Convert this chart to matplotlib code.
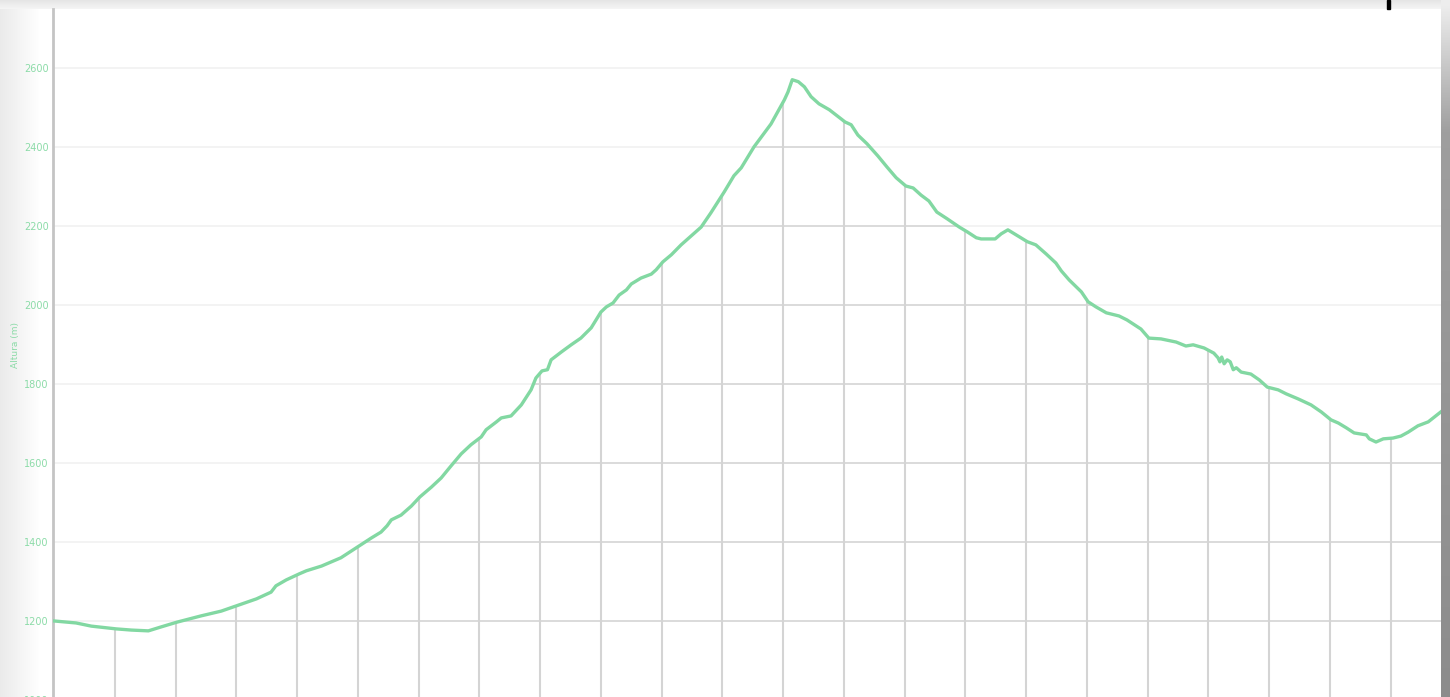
import numpy as np
import matplotlib
matplotlib.use("Agg")
import matplotlib.pyplot as plt
from matplotlib.patches import Polygon, Rectangle

distance_km = [0.00, 0.36, 0.61, 1.02, 1.27, 1.55, 1.76, 2.02, 2.42, 2.75, 3.03, 3.33, 3.57, 3.65,
               3.82, 4.03, 4.15, 4.40, 4.72, 5.02, 5.22, 5.38, 5.48, 5.55, 5.71, 5.88, 6.02, 6.21,
               6.37, 6.53, 6.70, 6.86, 7.03, 7.11, 7.28, 7.36, 7.52, 7.69, 7.85, 7.93, 8.03, 8.12,
               8.18, 8.35, 8.51, 8.67, 8.84, 8.92, 9.00, 9.09, 9.20, 9.30, 9.42, 9.50, 9.66, 9.83,
               9.91, 10.02, 10.16, 10.32, 10.49, 10.65, 10.81, 11.03, 11.19, 11.31, 11.52, 11.80,
               12.02, 12.08, 12.15, 12.25, 12.35, 12.46, 12.59, 12.76, 12.91, 13.02, 13.12, 13.23,
               13.38, 13.56, 13.71, 13.86, 14.02, 14.14, 14.27, 14.40, 14.53, 14.70, 14.90, 15.03,
               15.18, 15.26, 15.49, 15.59, 15.70, 15.84, 16.02, 16.16, 16.33, 16.49, 16.58, 16.71,
               16.91, 17.02, 17.15, 17.32, 17.53, 17.66, 17.89, 18.02, 18.22, 18.47, 18.63, 18.75,
               18.93, 19.09, 19.16, 19.19, 19.22, 19.26, 19.31, 19.36, 19.41, 19.46, 19.54, 19.70,
               19.84, 19.97, 20.15, 20.28, 20.48, 20.69, 20.86, 21.02, 21.14, 21.27, 21.40, 21.60,
               21.65, 21.76, 21.88, 22.04, 22.17, 22.29, 22.45, 22.62, 22.85]
elevation_m = [1200, 1195, 1187, 1180, 1177, 1175, 1185, 1197, 1213, 1225, 1240, 1256, 1273, 1289,
               1304, 1319, 1327, 1339, 1360, 1390, 1410, 1425, 1441, 1456, 1468, 1491, 1514, 1539,
               1562, 1592, 1623, 1646, 1666, 1684, 1704, 1714, 1719, 1747, 1785, 1815, 1833, 1836,
               1861, 1881, 1899, 1916, 1942, 1962, 1982, 1995, 2005, 2025, 2038, 2053, 2068, 2078,
               2089, 2109, 2127, 2152, 2175, 2197, 2233, 2286, 2327, 2347, 2400, 2458,
               2519, 2539, 2570, 2565, 2552, 2527, 2509, 2494, 2476, 2463, 2456, 2430,
               2408, 2377, 2349, 2322, 2301, 2296, 2278, 2263, 2235, 2218, 2197, 2185,
               2170, 2167, 2167, 2180, 2190, 2177, 2160, 2152, 2129, 2106, 2086, 2063,
               2033, 2008, 1995, 1980, 1972, 1962, 1939, 1916, 1914, 1906, 1896, 1899,
               1891, 1878, 1866, 1856, 1868, 1851, 1861, 1856, 1836, 1841, 1830, 1825,
               1810, 1792, 1785, 1775, 1762, 1747, 1729, 1709, 1701, 1689, 1676, 1671,
               1661, 1653, 1661, 1663, 1668, 1678, 1694, 1704, 1732]

y_ticks = [1000, 1200, 1400, 1600, 1800, 2000, 2200, 2400, 2600]
x_grid = list(range(1, 23))
y_label = "Altura (m)"

W, H = 1450, 697
fig = plt.figure(figsize=(W / 100, H / 100), dpi=100)
fig.patch.set_facecolor("white")

# --- background card shading ---
bg = fig.add_axes([0, 0, 1, 1], zorder=-10)
bg.axis("off")
top_grad = np.linspace(0.90, 0.96, 9)[:, None] * np.ones((1, 2))
bg.imshow(np.dstack([top_grad] * 3), extent=(0, 1441, 9, 0), aspect="auto", interpolation="bilinear")
left_grad = np.ones((2, 1)) * np.linspace(0.92, 1.0, 40)[None, :]
bg.imshow(np.dstack([left_grad] * 3), extent=(0, 40, H, 9), aspect="auto", interpolation="bilinear")
right_grad = np.r_[np.linspace(0.93, 0.62, 12), np.linspace(0.62, 0.55, 48)][:, None] * np.ones((1, 2))
bg.imshow(np.dstack([right_grad] * 3), extent=(1441, W, H, 0), aspect="auto", interpolation="bilinear")
bg.add_patch(Rectangle((1387, 0), 3, 9, color="black"))
bg.set_xlim(0, W)
bg.set_ylim(H, 0)

# --- main axes ---
left_px, right_px, top_px, bottom_px = 53, 1441, 9, 700
ax = fig.add_axes([left_px / W, (H - bottom_px) / H, (right_px - left_px) / W,
                   (bottom_px - top_px) / H])
ax.set_facecolor("none")
ax.set_xlim(-0.02, 22.83)
ax.set_ylim(1000, 2749)

x = np.array(distance_km)
y = np.array(elevation_m)

for yt in y_ticks:
    ax.axhline(yt, color="#f2f2f2", lw=1.3, zorder=1)

clip_poly = Polygon(np.column_stack([np.r_[x, x[-1], x[0]], np.r_[y, 900, 900]]),
                    closed=True, transform=ax.transData, facecolor="none", edgecolor="none")
ax.add_patch(clip_poly)
for yt in y_ticks:
    l = ax.axhline(yt, color="#d9d9d9", lw=1.3, zorder=2)
    l.set_clip_path(clip_poly)
for xg in x_grid:
    l = ax.axvline(xg, color="#d4d4d4", lw=1.5, zorder=2)
    l.set_clip_path(clip_poly)

ax.plot(x, y, color="#82d8a2", lw=2.4, zorder=5, solid_joinstyle="round")

for s in ["top", "right", "bottom"]:
    ax.spines[s].set_visible(False)
ax.spines["left"].set_color("#c4c4c4")
ax.spines["left"].set_linewidth(2)
ax.set_yticks(y_ticks)
ax.set_yticklabels([str(t) for t in y_ticks])
ax.tick_params(axis="y", length=0, pad=3, labelsize=7, labelcolor="#8cdba8")
ax.set_xticks([])
ax.set_ylabel(y_label, fontsize=6.5, color="#8cdba8")
ax.yaxis.set_label_coords(-0.0235, 0.514)

fig.savefig("out.png", dpi=100)
